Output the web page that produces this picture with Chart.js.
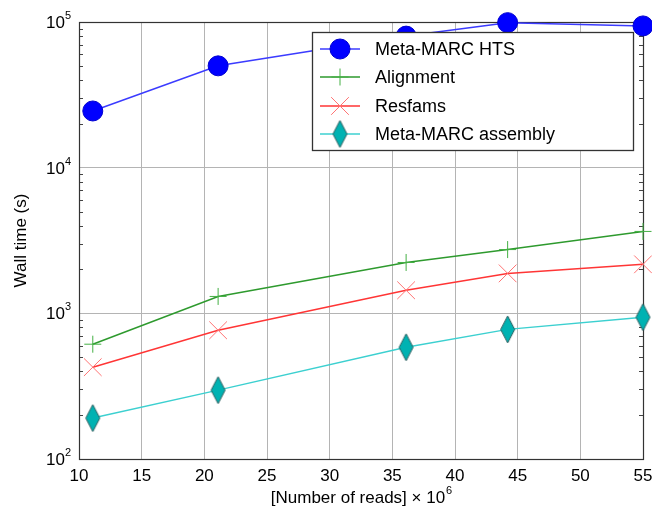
<!DOCTYPE html>
<html><head><meta charset="utf-8">
<script src="https://cdn.jsdelivr.net/npm/chart.js@4.4.0/dist/chart.umd.min.js"></script>
<style>html,body{margin:0;padding:0;background:#fff;}</style>
</head><body>
<canvas id="c" width="652" height="518" style="width:652px;height:518px;display:block"></canvas>
<script>
const reads = [11.1, 21.1, 36.1, 44.2, 55];
const htsTime = [24500, 50000, 80000, 99000, 94000];
const alignmentTime = [614, 1306, 2234, 2740, 3650];
const resfamsTime = [427, 765, 1440, 1880, 2170];
const assemblyTime = [191, 297, 585, 776, 940];
const seriesNames = ['Meta-MARC HTS', 'Alignment', 'Resfams', 'Meta-MARC assembly'];
const xTickValues = [10, 15, 20, 25, 30, 35, 40, 45, 50, 55];
const yDecades = [2, 3, 4, 5];
const xTitle = '[Number of reads]';
const xTitleScale = ' \u00d7 10';
const xTitleExp = '6';
const yTitle = 'Wall time (s)';

const FONT = '"Liberation Sans", Arial, Helvetica, sans-serif';

function makeDiamond() {
  const w = 17, h = 29;
  const c = document.createElement('canvas');
  c.width = w; c.height = h;
  const g = c.getContext('2d');
  g.beginPath();
  g.moveTo(w / 2, 1); g.lineTo(w - 1.5, h / 2); g.lineTo(w / 2, h - 1); g.lineTo(1.5, h / 2);
  g.closePath();
  g.fillStyle = '#00b2b2'; g.fill();
  g.strokeStyle = '#2e5e5e'; g.lineWidth = 1; g.stroke();
  return c;
}
const diamondImg = makeDiamond();

const pts = arr => reads.map((x, i) => ({x: x, y: arr[i]}));

const styles = [
  {line: '#3b3bff', width: 1.5, pointStyle: 'circle', radius: 10, fill: '#0000ff', border: '#0000d0', bw: 1},
  {line: '#2e9a2e', width: 1.5, pointStyle: 'cross', radius: 8.5, fill: '#44b044', border: '#44b044', bw: 1},
  {line: '#ff3535', width: 1.5, pointStyle: 'crossRot', radius: 12.5, fill: '#ff7373', border: '#ff7373', bw: 1},
  {line: '#3cd0d0', width: 1.5, pointStyle: diamondImg, radius: 10, fill: '#00b2b2', border: '#2e5e5e', bw: 1}
];
const series = [htsTime, alignmentTime, resfamsTime, assemblyTime];

const datasets = series.map((arr, i) => ({
  label: seriesNames[i],
  data: pts(arr),
  borderColor: styles[i].line,
  borderWidth: styles[i].width,
  pointStyle: styles[i].pointStyle,
  pointRadius: styles[i].radius,
  pointBackgroundColor: styles[i].fill,
  pointBorderColor: styles[i].border,
  pointBorderWidth: styles[i].bw,
  tension: 0,
  fill: false,
  clip: false
}));

const decorPlugin = {
  id: 'decor',
  beforeDatasetsDraw(chart) {
    const {ctx, chartArea: a, scales} = chart;
    const y = scales.y;
    ctx.save();
    ctx.strokeStyle = '#444';
    ctx.lineWidth = 1;
    ctx.beginPath();
    for (let d = 2; d < 5; d++) {
      for (let m = 2; m <= 9; m++) {
        const py = Math.round(y.getPixelForValue(m * Math.pow(10, d))) + 0.5;
        ctx.moveTo(a.left, py); ctx.lineTo(a.left + 4, py);
        ctx.moveTo(a.right, py); ctx.lineTo(a.right - 4, py);
      }
    }
    ctx.stroke();
    ctx.strokeStyle = '#333';
    ctx.lineWidth = 1.2;
    ctx.strokeRect(Math.round(a.left) + 0.5, Math.round(a.top) + 0.5, Math.round(a.right - a.left), Math.round(a.bottom - a.top));
    ctx.restore();
  },
  afterDraw(chart) {
    const {ctx, chartArea: a, scales} = chart;
    const y = scales.y;
    ctx.save();
    ctx.fillStyle = '#000';
    yDecades.forEach(d => {
      const py = y.getPixelForValue(Math.pow(10, d));
      ctx.font = '17px ' + FONT;
      const wb = ctx.measureText('10').width;
      ctx.font = '11px ' + FONT;
      const we = ctx.measureText(String(d)).width;
      const xEnd = 71;
      ctx.textAlign = 'left';
      ctx.textBaseline = 'alphabetic';
      ctx.font = '17px ' + FONT;
      ctx.fillText('10', xEnd - we - wb, py + 6);
      ctx.font = '11px ' + FONT;
      ctx.fillText(String(d), xEnd - we, py - 3);
    });
    ctx.font = '17px ' + FONT;
    const w1 = ctx.measureText(xTitle + xTitleScale).width;
    ctx.font = '11px ' + FONT;
    const w2 = ctx.measureText(xTitleExp).width;
    const cx = (a.left + a.right) / 2;
    let sx = cx - (w1 + w2) / 2;
    ctx.font = '17px ' + FONT;
    ctx.fillText(xTitle + xTitleScale, sx, 503);
    ctx.font = '11px ' + FONT;
    ctx.fillText(xTitleExp, sx + w1 + 1, 494);
    ctx.save();
    ctx.translate(26, (a.top + a.bottom) / 2);
    ctx.rotate(-Math.PI / 2);
    ctx.font = '17px ' + FONT;
    ctx.textAlign = 'center';
    ctx.fillText(yTitle, 0, 0);
    ctx.restore();
    const lx = 312, ly = 32, lw = 321, lh = 118;
    ctx.fillStyle = '#fff';
    ctx.fillRect(lx, ly, lw, lh);
    ctx.strokeStyle = '#333';
    ctx.lineWidth = 1.3;
    ctx.strokeRect(lx + 0.5, ly + 0.5, lw, lh);
    const rows = [49, 77, 106, 134];
    seriesNames.forEach((name, i) => {
      const ry = rows[i];
      const s = styles[i];
      ctx.strokeStyle = s.line;
      ctx.lineWidth = s.width;
      ctx.beginPath(); ctx.moveTo(320, ry); ctx.lineTo(360, ry); ctx.stroke();
      const mx = 340;
      if (i === 0) {
        ctx.beginPath(); ctx.arc(mx, ry, s.radius, 0, Math.PI * 2);
        ctx.fillStyle = s.fill; ctx.fill();
        ctx.strokeStyle = s.border; ctx.lineWidth = 1; ctx.stroke();
      } else if (i === 1) {
        ctx.strokeStyle = s.border; ctx.lineWidth = 1;
        ctx.beginPath();
        ctx.moveTo(mx - s.radius, ry); ctx.lineTo(mx + s.radius, ry);
        ctx.moveTo(mx, ry - s.radius); ctx.lineTo(mx, ry + s.radius);
        ctx.stroke();
      } else if (i === 2) {
        const o = s.radius * Math.SQRT1_2;
        ctx.strokeStyle = s.border; ctx.lineWidth = 1;
        ctx.beginPath();
        ctx.moveTo(mx - o, ry - o); ctx.lineTo(mx + o, ry + o);
        ctx.moveTo(mx - o, ry + o); ctx.lineTo(mx + o, ry - o);
        ctx.stroke();
      } else {
        ctx.drawImage(diamondImg, mx - diamondImg.width / 2, ry - diamondImg.height / 2);
      }
      ctx.fillStyle = '#000';
      ctx.font = '18px ' + FONT;
      ctx.textAlign = 'left';
      ctx.textBaseline = 'middle';
      ctx.fillText(name, 375, ry + 1);
    });
    ctx.restore();
  }
};

new Chart(document.getElementById('c'), {
  type: 'line',
  data: {datasets: datasets},
  options: {
    responsive: false,
    animation: false,
    devicePixelRatio: 1,
    events: [],
    layout: {autoPadding: false, padding: {left: 0, right: 9, top: 22, bottom: 0}},
    plugins: {legend: {display: false}, tooltip: {enabled: false}},
    scales: {
      x: {
        type: 'linear',
        min: 10, max: 55,
        afterBuildTicks: s => { s.ticks = xTickValues.map(v => ({value: v})); },
        afterFit: s => { s.height = 59; s.paddingLeft = 0; s.paddingRight = 0; },
        border: {display: false},
        grid: {color: '#b4b4b4', lineWidth: 1, drawTicks: false},
        ticks: {color: '#000', font: {family: FONT, size: 17}, padding: 7, maxRotation: 0, autoSkip: false}
      },
      y: {
        type: 'logarithmic',
        min: 100, max: 100000,
        afterBuildTicks: s => { s.ticks = yDecades.map(d => ({value: Math.pow(10, d), major: true})); },
        afterFit: s => { s.width = 79; s.paddingTop = 0; s.paddingBottom = 0; },
        border: {display: false},
        grid: {color: '#b4b4b4', lineWidth: 1, drawTicks: false},
        ticks: {display: false}
      }
    }
  },
  plugins: [decorPlugin]
});
</script>
</body></html>
